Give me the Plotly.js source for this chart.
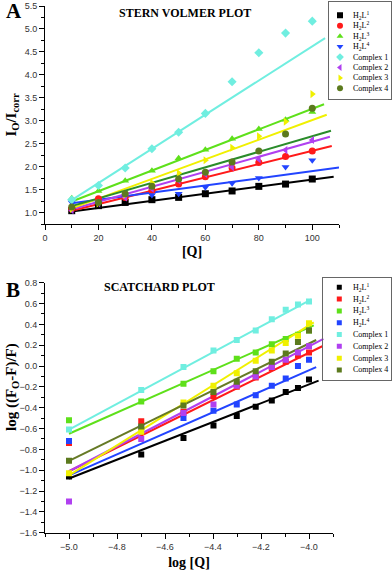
<!DOCTYPE html>
<html><head><meta charset="utf-8">
<script src="https://cdn.plot.ly/plotly-3.0.1.min.js"></script>
<style>html,body{margin:0;padding:0;background:#fff}#chart{width:392px;height:574px}</style>
</head><body><div id="chart"></div>
<script>
// ---------- data ----------
const seriesNames = ['H<sub>2</sub>L<sup>1</sup>','H<sub>2</sub>L<sup>2</sup>','H<sub>2</sub>L<sup>3</sup>','H<sub>2</sub>L<sup>4</sup>','Complex 1','Complex 2','Complex 3','Complex 4'];

// Stern-Volmer plot
const svQ = [10,20,30,40,50,60,70,80,90,100];
const svH2L1 = [1.04,1.15,1.22,1.28,1.33,1.41,1.47,1.57,1.62,1.73];
const svH2L2 = [1.08,1.30,1.33,1.48,1.62,1.78,1.97,2.09,2.22,2.34];
const svH2L3 = [1.31,1.47,1.69,1.91,2.18,2.37,2.61,2.82,3.02,3.19];
const svH2L4 = [1.22,1.22,1.35,1.38,1.41,1.55,1.64,1.75,1.99,2.14];
const svC1 = [1.28,1.59,1.97,2.39,2.75,3.16,3.85,4.48,4.91,5.17];
const svC2 = [1.05,1.20,1.33,1.52,1.70,1.84,1.99,2.16,2.36,2.58];
const svC3 = [1.08,1.20,1.39,1.65,1.86,2.14,2.41,2.66,2.98,3.58];
const svC4 = [1.12,1.22,1.41,1.57,1.73,1.88,2.10,2.34,2.71,3.27];
// fitted lines (start / end)
const svFitX0 = [10,10,10,10,10,9.4,10,10];
const svFitX1 = [108,107.3,104.4,110,104.8,106.6,105.4,107];
const svFitY0 = [1.02,1.04,1.24,1.20,1.27,1.06,1.09,1.14];
const svFitY1 = [1.78,2.45,3.36,1.98,4.80,2.65,3.13,2.78];

// Scatchard plot
const scLogQ = [-5.0,-4.699,-4.523,-4.398,-4.301,-4.222,-4.155,-4.097,-4.046,-4.0];
const scH2L1 = [-1.06,-0.85,-0.69,-0.57,-0.48,-0.39,-0.33,-0.25,-0.21,-0.13];
const scH2L2 = [-0.74,-0.53,-0.44,-0.29,-0.20,-0.11,-0.02,0.04,0.10,0.13];
const scH2L3 = [-0.52,-0.34,-0.17,-0.05,0.07,0.13,0.21,0.26,0.30,0.34];
const scH2L4 = [-0.72,-0.59,-0.50,-0.43,-0.37,-0.28,-0.19,-0.12,0.00,0.06];
const scC1 = [-0.61,-0.23,-0.01,0.15,0.25,0.34,0.45,0.54,0.59,0.62];
const scC2 = [-1.30,-0.70,-0.45,-0.37,-0.19,-0.10,-0.01,0.06,0.13,0.19];
const scC3 = [-1.03,-0.63,-0.35,-0.19,-0.07,0.05,0.15,0.22,0.29,0.41];
const scC4 = [-0.91,-0.58,-0.38,-0.25,-0.15,-0.05,0.04,0.12,0.23,0.34];
const scFitX0 = [-5,-5,-5,-4.99,-5,-5,-5,-5];
const scFitX1 = [-3.96,-3.945,-3.98,-3.97,-3.99,-3.94,-3.98,-3.97];
const scFitY0 = [-1.08,-1.01,-0.65,-1.04,-0.61,-1.01,-1.05,-0.91];
const scFitY1 = [-0.14,0.19,0.39,-0.01,0.64,0.26,0.42,0.25];

// ---------- styles ----------
const markerColors = ['#000000','#ff1a1a','#5ee01a','#2244ff','#70eee0','#b040f0','#f0f000','#5c7a1e'];
const svLineColors = ['#000000','#ff1a1a','#5ee01a','#2244ff','#70eee0','#b040f0','#f0f000','#2a8c2a'];
const scLineColors = ['#000000','#ff1a1a','#5ee01a','#2244ff','#70eee0','#b040f0','#f0f000','#667a26'];
const svSymbols = ['square','circle','triangle-up','triangle-down','diamond','triangle-left','triangle-right','circle'];

const svSeries = [svH2L1,svH2L2,svH2L3,svH2L4,svC1,svC2,svC3,svC4];
const scSeries = [scH2L1,scH2L2,scH2L3,scH2L4,scC1,scC2,scC3,scC4];

const W = 392, H = 574;
const fx = px => px / W, fy = py => 1 - py / H;

const traces = [];
// panel A lines
svSeries.forEach((s, i) => {
  traces.push({x:[svFitX0[i], svFitX1[i]], y:[svFitY0[i], svFitY1[i]], mode:'lines', xaxis:'x', yaxis:'y',
    line:{color:svLineColors[i], width:2}, hoverinfo:'skip', showlegend:false});
});
svSeries.forEach((s, i) => {
  traces.push({x:svQ, y:s, mode:'markers', name:seriesNames[i], xaxis:'x', yaxis:'y',
    marker:{symbol:svSymbols[i], color:markerColors[i], size:7}, showlegend:false});
});
// panel B lines
scSeries.forEach((s, i) => {
  traces.push({x:[scFitX0[i], scFitX1[i]], y:[scFitY0[i], scFitY1[i]], mode:'lines', xaxis:'x2', yaxis:'y2',
    line:{color:scLineColors[i], width:2}, hoverinfo:'skip', showlegend:false});
});
scSeries.forEach((s, i) => {
  traces.push({x:scLogQ, y:s, mode:'markers', name:seriesNames[i], xaxis:'x2', yaxis:'y2',
    marker:{symbol:'square', color:markerColors[i], size:6}, showlegend:false});
});
// custom legends (compact)
const idx = seriesNames.map((_, i) => i);
traces.push({x:idx.map(() => 11), y:idx, mode:'markers', xaxis:'x3', yaxis:'y3', hoverinfo:'skip', showlegend:false,
  marker:{symbol:svSymbols, color:markerColors, size:6}});
traces.push({x:idx.map(() => 16), y:idx, mode:'markers', xaxis:'x4', yaxis:'y4', hoverinfo:'skip', showlegend:false,
  marker:{symbol:'square', color:markerColors, size:5}});

const tickFont = {family:'Liberation Sans, Arial, sans-serif', size:9, color:'#333'};
const serif = 'Liberation Serif, Times New Roman, serif';
const baseAxis = {showline:true, linecolor:'#000', linewidth:1, ticks:'outside', ticklen:5, tickwidth:1, tickcolor:'#000',
  showgrid:false, zeroline:false, tickfont:tickFont, mirror:false, fixedrange:true};
const boxAxis = {showline:true, mirror:true, linecolor:'#666', linewidth:1, showticklabels:false, ticks:'',
  showgrid:false, zeroline:false, fixedrange:true};

const annotations = [];
seriesNames.forEach((n, i) => {
  annotations.push({xref:'x3', yref:'y3', x:22, y:i, text:n, showarrow:false, xanchor:'left', yanchor:'middle',
    font:{family:serif, size:8, color:'#000'}});
  annotations.push({xref:'x4', yref:'y4', x:27.7, y:i, text:n, showarrow:false, xanchor:'left', yanchor:'middle',
    font:{family:serif, size:8, color:'#000'}});
});
annotations.push({xref:'paper', yref:'paper', x:fx(184.5), y:fy(13), xanchor:'center', yanchor:'middle', text:'STERN VOLMER PLOT', showarrow:false,
  font:{family:serif, size:12, color:'#000', weight:'bold'}});
annotations.push({xref:'paper', yref:'paper', x:fx(159.5), y:fy(287), xanchor:'center', yanchor:'middle', text:'SCATCHARD PLOT', showarrow:false,
  font:{family:serif, size:12, color:'#000', weight:'bold'}});
annotations.push({xref:'paper', yref:'paper', x:fx(14), y:fy(11), xanchor:'center', yanchor:'middle', text:'A', showarrow:false,
  font:{family:serif, size:21, color:'#000', weight:'bold'}});
annotations.push({xref:'paper', yref:'paper', x:fx(13), y:fy(290), xanchor:'center', yanchor:'middle', text:'B', showarrow:false,
  font:{family:serif, size:21, color:'#000', weight:'bold'}});
annotations.push({xref:'paper', yref:'paper', x:fx(12), y:fy(387), xanchor:'center', yanchor:'middle', textangle:-90,
  text:'log ((F<sub>O</sub>-F)/F)', showarrow:false, font:{family:serif, size:15, color:'#000', weight:'bold'}});

const layout = {
  width:W, height:H, margin:{l:0, r:0, t:0, b:0}, paper_bgcolor:'#fff', plot_bgcolor:'rgba(0,0,0,0)',
  showlegend:false,
  xaxis:Object.assign({}, baseAxis, {domain:[fx(45), fx(339)], range:[0,110], tick0:0, dtick:20, anchor:'y',
    minor:{dtick:10, ticks:'outside', ticklen:3, tickcolor:'#000'},
    title:{text:'[Q]', standoff:4, font:{family:serif, size:14, color:'#000', weight:'bold'}}}),
  yaxis:Object.assign({}, baseAxis, {domain:[fy(224), fy(6)], range:[0.75,5.5], tick0:0, dtick:0.5, tickformat:'.1f', anchor:'x',
    minor:{dtick:0.25, ticks:'outside', ticklen:3, tickcolor:'#000'},
    title:{text:'I<sub>O</sub>/I<sub>corr</sub>', standoff:4, font:{family:serif, size:15, color:'#000', weight:'bold'}}}),
  xaxis2:Object.assign({}, baseAxis, {domain:[fx(45), fx(333)], range:[-5.1,-3.9], tick0:-5, dtick:0.2, tickformat:'.1f', anchor:'y2',
    minor:{dtick:0.1, ticks:'outside', ticklen:3, tickcolor:'#000'},
    title:{text:'log [Q]', standoff:6, font:{family:serif, size:14, color:'#000', weight:'bold'}}}),
  yaxis2:Object.assign({}, baseAxis, {domain:[fy(532.7), fy(282.7)], range:[-1.6,0.8], tick0:0, dtick:0.2, tickformat:'.1f', anchor:'x2',
    minor:{dtick:0.1, ticks:'outside', ticklen:3, tickcolor:'#000'}}),
  xaxis3:Object.assign({}, boxAxis, {domain:[fx(329), fx(390.5)], range:[0,61.5], anchor:'y3'}),
  yaxis3:Object.assign({}, boxAxis, {domain:[fy(99), fy(1.7)], range:[8.02,-1.30], anchor:'x3'}),
  xaxis4:Object.assign({}, boxAxis, {domain:[fx(323.3), fx(390.5)], range:[0,67.2], anchor:'y4'}),
  yaxis4:Object.assign({}, boxAxis, {domain:[fy(380), fy(278.3)], range:[7.85,-0.76], anchor:'x4'}),
  annotations:annotations
};

Plotly.newPlot('chart', traces, layout, {displayModeBar:false, staticPlot:true});
</script>
</body></html>
